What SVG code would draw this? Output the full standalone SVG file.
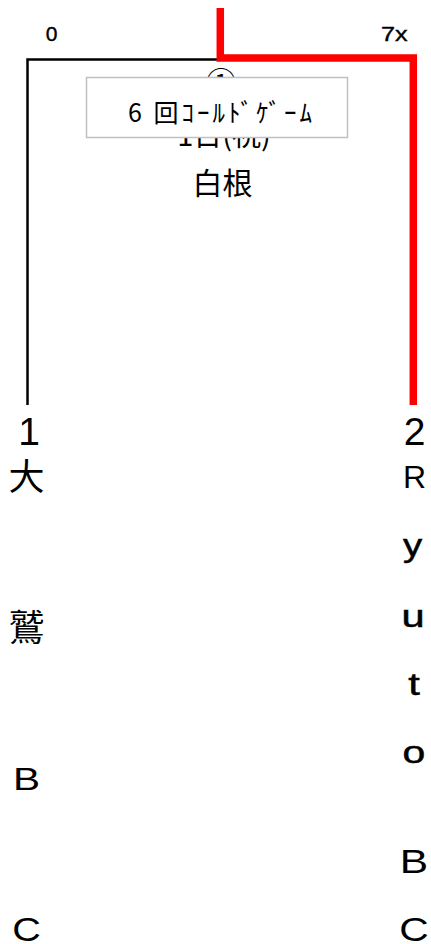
<svg xmlns="http://www.w3.org/2000/svg" width="431" height="944" viewBox="0 0 431 944">
<style>
text{font-family:"Liberation Sans","Noto Sans CJK JP",sans-serif;fill:#000}
.jp{font-family:"Noto Sans CJK JP","Liberation Sans",sans-serif}
.lbl{font-size:21px;stroke:#000;stroke-width:0.4}
.num{font-size:39px;text-anchor:middle}
.col{text-anchor:middle}
.b{stroke:#000;stroke-width:0.5}
.wire{fill:none;stroke-linejoin:miter;stroke-linecap:butt}
</style>
<rect width="431" height="944" fill="#fff"/>
<g id="connectors">
<path class="wire" d="M27.5,405 V59.5 H218" stroke="#000" stroke-width="2.5"/>
<path class="wire" d="M220.3,8 V58 H413.3 V405" stroke="#ff0000" stroke-width="7.5"/>
</g>
<g id="scores">
<text class="lbl" x="51.5" y="41" text-anchor="middle">0</text>
<text class="lbl" text-anchor="end" transform="translate(407.5,41) scale(1.2,1)">7x</text>
</g>
<g id="match1">
<text class="jp" x="221" y="93" font-size="30" text-anchor="middle">①</text>
<text class="jp" x="224" y="146" font-size="29" text-anchor="middle">1日(祝)</text>
<text class="jp" x="222.5" y="194" font-size="30" text-anchor="middle">白根</text>
<rect x="86.5" y="77.5" width="261" height="60" fill="#fff" stroke="#c0c0c0" stroke-width="1.5"/>
<text class="jp" x="128" y="122" font-size="25" textLength="184" lengthAdjust="spacing">6 回ｺｰﾙﾄﾞｹﾞｰﾑ</text>
</g>
<g id="team1">
<text class="num" x="29" y="445">1</text>
<text class="jp col" x="26.5" y="490" font-size="36">大</text>
<text class="jp col" x="26.5" y="641" font-size="36">鷲</text>
<text class="col" font-size="32" transform="translate(26.5,790) scale(1.27,1)">B</text>
<text class="col" font-size="33" transform="translate(26.5,941) scale(1.2,1)">C</text>
</g>
<g id="team2">
<text class="num" x="414.5" y="445">2</text>
<text class="col" x="414.5" y="488" font-size="32">R</text>
<text class="col b" font-size="32" transform="translate(412.5,556) scale(1.2,1)">y</text>
<text class="col b" font-size="32" transform="translate(413,627) scale(1.3,1)">u</text>
<text class="col b" font-size="32" transform="translate(414,695) scale(1.3,1)">t</text>
<text class="col b" font-size="32" transform="translate(414,763) scale(1.28,1)">o</text>
<text class="col" font-size="34" transform="translate(414,873) scale(1.25,1)">B</text>
<text class="col" font-size="34" transform="translate(414,941) scale(1.2,1)">C</text>
</g>
</svg>
